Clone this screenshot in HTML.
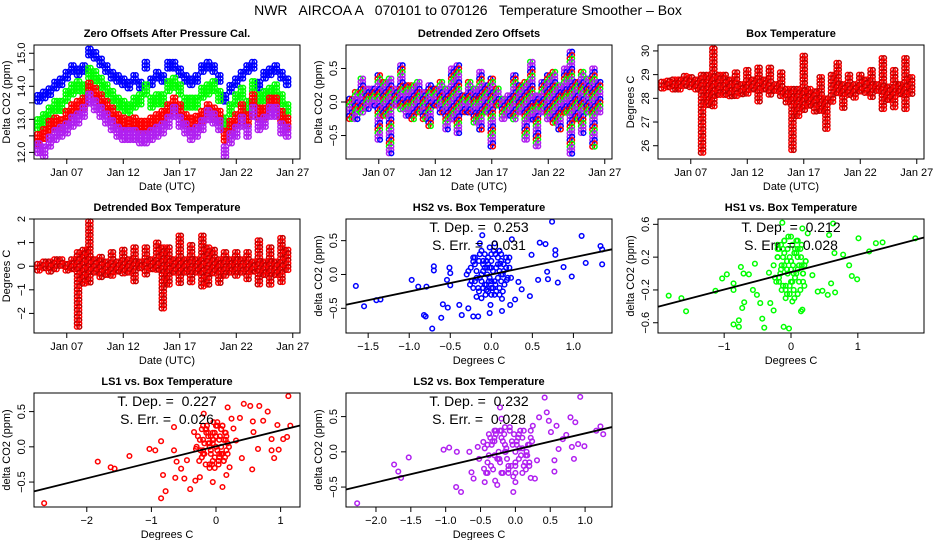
<!DOCTYPE html>
<html><head><meta charset="utf-8"><style>
html,body{margin:0;padding:0;background:#fff;}
svg{display:block;font-family:"Liberation Sans",sans-serif;}
</style></head><body>
<svg id="chart" width="936" height="540" viewBox="0 0 936 540" xmlns="http://www.w3.org/2000/svg">
<rect x="0" y="0" width="936" height="540" fill="#fff"/>
<text x="468" y="15" text-anchor="middle" font-size="14" xml:space="preserve" style="white-space:pre">NWR   AIRCOA A   070101 to 070126   Temperature Smoother – Box</text>
</svg>
<script>
// ---------- data ----------
const days = [4.5,5,5.5,6,6.5,7,7.5,8,8.5,9,9.5,10,10.5,11,11.5,12,12.5,13,13.5,14,14.5,15,15.5,16,16.5,17,17.5,18,18.5,19,19.5,20,20.5,21,21.5,22,22.5,23,23.5,24,24.5,25,25.5,26,26.5];
const dateTicks = [7,12,17,22,27];
const dateTickLabels = ["Jan 07","Jan 12","Jan 17","Jan 22","Jan 27"];
const hs2Zero = [13.6,13.7,13.8,14.0,14.1,14.3,14.5,14.4,14.5,15.0,14.9,14.7,14.5,14.3,14.2,14.1,14.0,14.2,14.0,14.6,14.1,14.3,14.2,14.6,14.6,14.4,14.2,14.1,14.2,14.5,14.6,14.5,14.2,13.6,13.9,14.1,14.3,14.5,14.6,14.0,14.3,14.4,14.5,14.3,14.1];
const hs1Zero = [12.85,13.0,13.2,13.4,13.4,13.7,13.9,14.0,13.9,14.4,14.3,14.1,13.9,13.7,13.5,13.4,13.3,13.5,13.6,13.9,13.5,13.6,13.6,14.0,14.1,13.9,13.5,13.5,13.5,13.8,13.9,14.0,13.7,12.9,13.3,13.6,13.8,13.4,14.0,13.6,13.7,13.8,13.9,13.6,13.3];
const ls1Zero = [12.4,12.55,12.8,12.9,12.85,13.1,13.3,13.4,13.5,13.95,13.8,13.6,13.4,13.2,13.0,12.9,12.85,12.9,12.8,12.8,12.9,13.0,13.1,13.3,13.5,13.3,13.0,12.9,12.95,13.1,13.3,13.2,13.1,12.5,12.8,13.0,13.3,13.0,13.6,13.2,13.2,13.5,13.5,13.1,12.9];
const ls2Zero = [12.1,12.0,12.3,12.5,12.6,12.7,12.9,13.0,13.2,13.6,13.4,13.2,13.0,12.8,12.6,12.5,12.5,12.5,12.4,12.4,12.5,12.6,12.7,12.9,13.2,12.9,12.7,12.5,12.6,12.8,13.1,13.0,12.8,12.0,12.4,12.6,12.9,12.6,13.2,12.8,12.9,13.2,13.2,12.7,12.6];
const detLo = [-0.3,-0.3,-0.2,-0.15,-0.1,-0.6,-0.25,-0.8,-0.1,-0.15,-0.25,-0.3,-0.2,-0.3,-0.4,-0.1,-0.2,-0.45,-0.3,-0.5,-0.2,-0.2,-0.35,-0.45,-0.2,-0.7,-0.1,-0.3,-0.25,-0.3,-0.2,-0.6,-0.3,-0.7,-0.2,-0.3,-0.35,-0.45,-0.2,-0.8,-0.3,-0.5,-0.2,-0.7,-0.2];
const detHi = [0.05,0.15,0.35,0.2,0.2,0.4,0.3,0.35,0.2,0.55,0.25,0.25,0.3,0.15,0.25,0.2,0.3,0.2,0.5,0.55,0.1,0.3,0.2,0.45,0.25,0.35,0.2,0.05,0.1,0.4,0.25,0.3,0.6,0.1,0.3,0.4,0.45,0.25,0.5,0.75,0.3,0.45,0.35,0.5,0.3];
const boxLo = [28.4,28.4,28.3,28.3,28.4,28.4,28.3,25.6,27.6,27.6,28.1,28.0,28.0,28.0,28.1,28.1,28.3,27.8,28.3,28.1,28.2,28.0,27.8,25.8,27.2,27.5,27.6,27.4,27.4,26.6,27.8,28.2,27.5,28.0,28.0,28.2,28.2,28.0,28.2,27.5,27.8,27.6,28.1,27.5,28.1];
const boxHi = [28.7,28.75,28.8,28.8,28.95,28.9,28.8,29.0,29.0,30.1,29.0,29.0,28.8,29.1,28.6,29.2,28.8,29.3,28.8,29.3,28.6,29.1,28.4,28.4,28.4,29.8,28.4,28.3,28.9,28.0,29.0,29.5,28.6,29.0,28.6,29.0,28.8,29.2,28.6,29.7,28.5,29.2,28.6,29.7,28.9];
const dbxLo = [-0.2,-0.2,-0.3,-0.2,-0.1,-0.2,-0.2,-2.7,-0.8,-0.8,-0.3,-0.6,-0.4,-0.5,-0.3,-0.4,-0.3,-0.7,-0.2,-0.4,-0.2,-0.2,-1.8,-0.8,-0.4,-0.8,-0.4,-0.7,-0.4,-1.0,-0.8,-0.4,-0.8,-0.5,-0.3,-0.5,-0.3,-0.6,-0.3,-0.9,-0.4,-0.8,-0.4,-0.8,-0.2];
const dbxHi = [0.1,0.2,0.2,0.3,0.3,0.1,0.3,0.6,0.7,1.9,0.3,0.4,0.2,0.6,0.2,0.7,0.3,0.8,0.2,0.8,0.3,1.0,0.8,0.8,0.3,1.3,0.3,0.9,0.3,1.3,0.8,0.7,0.3,0.6,0.3,0.6,0.3,0.6,0.2,1.1,0.2,0.8,0.2,1.2,0.7];

const hs2X = [-1.65,-1.55,-1.40,-1.35,-0.97,-0.89,-0.79,-0.82,-0.80,-0.72,-0.70,-0.70,-0.61,-0.59,-0.53,-0.51,-0.50,-0.50,-0.54,-0.39,-0.36,-0.28,-0.22,-0.16,-0.11,-0.02,-0.01,0.04,0.13,0.13,0.23,0.25,0.29,0.33,0.37,0.47,0.49,0.57,0.59,0.66,0.68,0.69,0.74,0.78,0.78,0.81,0.88,0.98,1.10,1.15,1.33,1.35,1.35,-0.30,-0.22,-0.18,0.11,0.19,-0.06,-0.14,
 -0.25,-0.2,-0.15,-0.12,-0.1,-0.08,-0.05,-0.03,0,0,0.02,0.05,0.08,0.1,0.12,0.15,0.2,0.22,-0.18,-0.07,0.03,-0.1,0.06,-0.22,0.18,-0.02,-0.14,0.1,-0.04,0.14,-0.08,0.0,0.05,-0.12,0.08,-0.02,-0.06,0.12];
const hs2Y = [-0.17,-0.47,-0.38,-0.37,-0.08,-0.18,-0.18,-0.60,-0.62,-0.80,0.12,0.06,-0.64,-0.44,-0.49,0.10,0.02,-0.16,-0.08,-0.45,-0.60,-0.50,-0.62,-0.62,0.58,-0.57,-0.45,0.46,-0.36,-0.54,-0.45,0.52,-0.37,-0.11,-0.22,-0.32,0.29,-0.08,0.47,0.45,0.04,-0.07,0.78,0.36,0.29,-0.12,0.11,-0.03,0.57,0.17,0.42,0.15,0.37,0.0,0.19,-0.33,0.16,-0.08,-0.23,0.46,
 0.1,-0.1,0.2,0.0,-0.2,0.3,0.1,-0.1,0.2,-0.3,0.05,-0.15,0.25,0.05,-0.1,0.15,-0.05,0.1,0.05,-0.3,0.35,0.15,-0.25,-0.2,0.25,-0.05,-0.05,0.35,0.25,-0.25,-0.15,-0.2,0.3,-0.35,-0.05,0.1,0.2,0.0];
const hs2BlobX = [-0.28,-0.24,-0.2,-0.16,-0.12,-0.08,-0.04,0,0.04,0.08,0.12,0.16,0.2,0.24,-0.26,-0.22,-0.18,-0.14,-0.1,-0.06,-0.02,0.02,0.06,0.1,0.14,0.18,0.22,-0.2,-0.15,-0.1,-0.05,0,0.05,0.1,0.15,-0.12,-0.04,0.04,0.12,0.0];
const hs2BlobY = [0.05,-0.1,0.25,-0.2,0.35,0.1,-0.25,0.3,-0.1,0.15,0.3,-0.15,0.2,-0.05,-0.15,0.25,-0.05,0.3,0.05,-0.15,0.4,-0.2,0.1,-0.3,0.0,0.1,0.25,0.15,-0.25,0.2,0.0,-0.1,0.3,-0.2,0.05,-0.1,0.15,-0.3,0.2,0.1];
const hs1X = [-1.83,-1.64,-1.57,-1.13,-1.03,-0.96,-0.86,-0.86,-0.86,-0.78,-0.78,-0.75,-0.73,-0.70,-0.71,-0.63,-0.57,-0.54,-0.51,-0.46,-0.43,-0.40,-0.33,-0.31,-0.26,-0.13,-0.11,-0.03,0.02,0.15,0.17,0.40,0.47,0.55,0.63,0.66,0.65,0.78,0.87,0.91,0.99,1.01,1.17,1.27,1.37,1.86,0.17,0.25,0.57,0.60,0.32,
 -0.2,-0.15,-0.1,-0.05,0,0.05,0.1,0.15,0.2,-0.18,-0.12,-0.06,0.02,0.08,0.14,0.22,-0.1,0.0,0.1,-0.15,-0.05,0.05,0.12,-0.08,0.03,-0.2,0.18,-0.02,0.08,-0.12];
const hs1Y = [-0.27,-0.30,-0.46,-0.21,-0.06,-0.01,-0.12,-0.20,-0.62,-0.57,-0.65,0.08,-0.42,-0.35,0.0,-0.01,-0.20,0.12,-0.26,-0.36,-0.55,-0.66,0.01,-0.36,-0.45,0.62,-0.65,-0.67,-0.34,-0.46,-0.44,-0.22,-0.21,-0.26,0.61,-0.23,0.25,0.23,0.1,-0.03,-0.07,0.43,0.27,0.37,0.38,0.43,0.55,0.49,0.47,-0.12,-0.02,
 0.2,0.35,0.1,0.3,0.15,0.25,0.05,0.2,0.1,-0.05,-0.15,-0.25,-0.1,0.0,-0.2,0.15,0.4,0.45,0.3,0.05,0.0,-0.3,-0.1,-0.2,0.1,0.3,0.0,-0.15,0.4,0.2];
const hs1BlobX = [-0.26,-0.22,-0.18,-0.14,-0.1,-0.06,-0.02,0.02,0.06,0.1,0.14,0.18,0.22,-0.24,-0.2,-0.16,-0.12,-0.08,-0.04,0,0.04,0.08,0.12,0.16,0.2,-0.2,-0.14,-0.08,-0.02,0.04,0.1,0.16,-0.1,0.0,0.1,-0.18,-0.06,0.06,0.18,0.0];
const hs1BlobY = [0.1,-0.1,0.3,-0.2,0.4,0.15,-0.25,0.35,-0.05,0.2,0.3,-0.1,0.15,-0.05,0.2,0.0,0.3,-0.15,0.45,0.05,-0.2,0.25,0.1,0.35,-0.15,0.35,0.1,-0.3,0.2,0.0,-0.25,0.1,0.25,0.15,0.4,-0.1,0.05,0.3,0.0,-0.1];
const ls1X = [-2.66,-1.83,-1.63,-1.57,-1.34,-1.03,-0.94,-0.85,-0.85,-0.82,-0.78,-0.65,-0.65,-0.63,-0.61,-0.54,-0.49,-0.45,-0.40,-0.34,-0.32,-0.25,-0.19,-0.05,0.10,0.18,0.16,0.21,0.24,0.27,0.37,0.43,0.53,0.57,0.56,0.58,0.67,0.65,0.73,0.80,0.86,0.86,0.90,0.95,0.97,1.04,1.10,1.12,1.15,0.40,0.31,-0.31,
 -0.25,-0.2,-0.15,-0.1,-0.05,0,0.05,0.1,0.15,0.2,-0.22,-0.12,-0.02,0.08,0.18,-0.18,-0.08,0.02,0.12,-0.15,-0.05,0.05,0.15,-0.1,0.0,0.1,-0.2,0.05,-0.05,0.12];
const ls1Y = [-0.80,-0.21,-0.29,-0.31,-0.13,-0.03,-0.05,0.08,-0.73,-0.40,-0.63,0.28,-0.05,-0.44,-0.21,-0.31,-0.45,-0.19,-0.60,0.21,-0.48,-0.43,0.47,-0.50,-0.57,0.56,-0.40,-0.29,0.40,0.26,0.41,0.61,0.58,0.36,-0.32,0.21,0.58,-0.03,0.37,0.50,0.11,-0.05,-0.16,0.31,-0.04,0.11,0.14,0.72,0.30,-0.16,0.09,-0.03,
 0.1,-0.1,0.2,0.0,-0.2,0.3,0.1,-0.1,0.2,0.0,-0.15,0.15,-0.3,0.25,-0.1,0.05,-0.05,0.35,-0.2,0.25,0.05,-0.15,0.1,-0.25,0.15,0.3,-0.05,-0.1,0.2,-0.2];
const ls1BlobX = [-0.3,-0.26,-0.22,-0.18,-0.14,-0.1,-0.06,-0.02,0.02,0.06,0.1,0.14,0.18,-0.28,-0.24,-0.2,-0.16,-0.12,-0.08,-0.04,0,0.04,0.08,0.12,0.16,-0.22,-0.16,-0.1,-0.04,0.02,0.08,0.14,-0.12,-0.02,0.08,-0.2,-0.08,0.04,0.16,-0.05];
const ls1BlobY = [0.0,-0.2,0.25,-0.1,0.3,0.05,-0.25,0.2,-0.05,0.15,0.3,-0.15,0.05,0.15,-0.05,0.1,-0.25,0.2,-0.1,0.35,0.0,-0.2,0.25,0.1,-0.05,-0.15,0.25,-0.3,0.1,0.3,-0.1,0.2,0.05,-0.15,0.0,0.3,0.15,-0.25,0.15,0.1];
const ls2X = [-2.27,-1.74,-1.68,-1.64,-1.53,-1.03,-0.95,-0.85,-0.84,-0.78,-0.66,-0.63,-0.60,-0.54,-0.52,-0.46,-0.45,-0.44,-0.29,-0.26,-0.22,-0.20,-0.03,0.00,0.22,0.28,0.31,0.25,0.34,0.42,0.45,0.48,0.51,0.56,0.56,0.59,0.62,0.68,0.73,0.79,0.81,0.84,0.86,0.90,0.93,0.99,1.16,1.22,1.26,
 -0.4,-0.35,-0.3,-0.25,-0.2,-0.15,-0.1,-0.05,0,0.05,0.1,0.15,0.2,-0.38,-0.28,-0.18,-0.08,0.02,0.12,0.22,-0.33,-0.23,-0.13,-0.03,0.07,0.17,-0.4,-0.2,0.0,0.2,-0.3,-0.1,0.1,-0.15,0.05];
const ls2Y = [-0.73,-0.18,-0.28,-0.37,-0.08,0.03,0.06,-0.50,0.00,-0.57,0.00,-0.29,-0.38,0.07,-0.10,0.14,-0.24,-0.43,-0.41,-0.47,0.63,0.47,-0.57,-0.43,-0.37,-0.38,-0.12,0.37,0.49,0.77,0.56,0.44,0.28,-0.12,-0.28,0.37,0.04,0.18,0.24,0.49,0.07,-0.10,0.42,0.11,0.78,0.08,0.30,0.36,0.25,
 0.1,-0.2,0.2,-0.1,0.3,0.0,-0.3,0.15,-0.15,0.25,0.05,-0.25,0.1,-0.05,0.25,-0.3,0.35,0.1,-0.2,0.2,0.15,-0.1,0.05,-0.35,0.3,-0.05,-0.3,0.2,0.0,-0.15,0.3,-0.2,0.2,0.1,-0.1];
const ls2BlobX = [-0.44,-0.4,-0.36,-0.32,-0.28,-0.24,-0.2,-0.16,-0.12,-0.08,-0.04,0,0.04,0.08,0.12,0.16,0.2,0.24,-0.42,-0.34,-0.26,-0.18,-0.1,-0.02,0.06,0.14,0.22,-0.38,-0.3,-0.22,-0.14,-0.06,0.02,0.1,0.18,-0.3,-0.15,0.0,0.15,-0.22];
const ls2BlobY = [0.05,-0.15,0.2,-0.25,0.3,0.0,-0.3,0.25,-0.1,0.3,0.1,-0.2,0.2,-0.05,0.3,0.0,-0.2,0.15,-0.3,0.1,-0.1,0.15,-0.25,0.25,0.05,-0.15,0.3,0.25,-0.05,0.3,0.0,-0.2,0.15,-0.3,0.1,0.15,0.35,-0.3,-0.05,-0.15];

const hs2Fit = [0.253, 0.0];
const hs1Fit = [0.212, 0.017];
const ls1Fit = [0.227, 0.007];
const ls2Fit = [0.232, 0.03];
const hs2Stats = ["T. Dep. =  0.253","S. Err. =  0.031"];
const hs1Stats = ["T. Dep. =  0.212","S. Err. =  0.028"];
const ls1Stats = ["T. Dep. =  0.227","S. Err. =  0.026"];
const ls2Stats = ["T. Dep. =  0.232","S. Err. =  0.028"];

// ---------- rendering ----------
const svg = document.getElementById('chart');
const NS = 'http://www.w3.org/2000/svg';
function mk(tag, attrs, parent){
  const e = document.createElementNS(NS, tag);
  for (const k in attrs) e.setAttribute(k, attrs[k]);
  (parent||svg).appendChild(e);
  return e;
}
function scale(d0,d1,r0,r1){ return v => r0 + (v-d0)/(d1-d0)*(r1-r0); }

function panel(name, box, xd, yd, title, xlab, ylab){
  const g = mk('g', {});
  
  
  const [L,T,R,B] = box;
  const p = {g, L, T, R, B, x: scale(xd[0],xd[1],L,R), y: scale(yd[0],yd[1],B,T)};
  const t = mk('text', {x:(L+R)/2, y:T-8, 'text-anchor':'middle', 'font-size':11, 'font-weight':'bold'}, g);
  t.textContent = title;
  
  
  const xl = mk('text', {x:(L+R)/2, y:B+31, 'text-anchor':'middle', 'font-size':11}, g);
  xl.textContent = xlab;
  
  
  const yl = mk('text', {x:0, y:0, 'text-anchor':'middle', 'font-size':11, transform:`translate(${L-24},${(T+B)/2}) rotate(-90)`}, g);
  yl.textContent = ylab;
  
  
  p.marks = mk('g', {}, g);
  
  
  return p;
}
function frame(p){
  const r = mk('rect', {x:p.L, y:p.T, width:p.R-p.L, height:p.B-p.T, fill:'none', stroke:'#000', 'stroke-width':1}, p.g);
  
  
}
function xAxis(p, ticks, labels){
  const ax = mk('g', {}, p.g);
  
  
  ticks.forEach((v,i)=>{
    const X = p.x(v);
    mk('line', {x1:X, x2:X, y1:p.B, y2:p.B+5, stroke:'#000'}, ax);
    const t = mk('text', {x:X, y:p.B+17, 'text-anchor':'middle', 'font-size':11}, ax);
    t.textContent = labels[i];
    
    
  });
}
function yAxis(p, ticks, labels){
  const ax = mk('g', {}, p.g);
  
  
  ticks.forEach((v,i)=>{
    const Y = p.y(v);
    mk('line', {x1:p.L-5, x2:p.L, y1:Y, y2:Y, stroke:'#000'}, ax);
    if (labels[i] === '') return;
    const t = mk('text', {x:0, y:0, 'text-anchor':'middle', 'font-size':11, transform:`translate(${p.L-9},${Y}) rotate(-90)`}, ax);
    t.textContent = labels[i];
    
    
  });
}
function dot(p, X, Y, color, nm){
  const c = mk('circle', {cx:X, cy:Y, r:2.3, fill:'none', stroke:color, 'stroke-width':1.5}, p.marks);
  
  
}
function centerSeries(p, vals, half, color, nm){
  vals.forEach((v,i)=>{
    const y0 = p.y(v+half), y1 = p.y(v-half);
    [-1.3,1.3].forEach(dx=>{
      for (let Y=y0; Y<=y1+0.01; Y+=3.4) dot(p, p.x(days[i])+dx, Y, color, nm);
    });
  });
}
function rangeSeries(p, lo, hi, colors, nm){
  lo.forEach((v,i)=>{
    const y0 = p.y(hi[i]), y1 = p.y(v);
    [-1.3,1.3].forEach((dx,j)=>{
      let k=j;
      for (let Y=y0; Y<=y1+0.01; Y+=3.4){ dot(p, p.x(days[i])+dx, Y, colors[(k+i)%colors.length], nm); k++; }
    });
  });
}
function scatter(p, xs, ys, bx, by, color, fit, stats, nm){
  xs.forEach((v,i)=> dot(p, p.x(v), p.y(ys[i]), color, nm));
  bx.forEach((v,i)=> dot(p, p.x(v), p.y(by[i]), color, nm));
  const ln = mk('line', {x1:p.L, x2:p.R, y1:p.y(fit[1]+fit[0]*p.xd0), y2:p.y(fit[1]+fit[0]*p.xd1), stroke:'#000', 'stroke-width':1.8}, p.g);
  
  
  stats.forEach((s,i)=>{
    const t = mk('text', {x:(p.L+p.R)/2, y:p.T+13+i*18, 'text-anchor':'middle', 'font-size':14, 'xml:space':'preserve', style:'white-space:pre'}, p.g);
    t.textContent = s;
    
    
  });
}
const DX = [4.1, 27.64];

let p = panel('zero-offsets-panel', [34,45,300,159], DX, [11.8,15.25], 'Zero Offsets After Pressure Cal.', 'Date (UTC)', 'Delta CO2 (ppm)');
centerSeries(p, hs2Zero, 0.14, '#0000ff', 'hs2-point');
centerSeries(p, hs1Zero, 0.16, '#00ff00', 'hs1-point');
centerSeries(p, ls1Zero, 0.16, '#ff0000', 'ls1-point');
centerSeries(p, ls2Zero, 0.18, '#b020f0', 'ls2-point');
frame(p); xAxis(p, dateTicks, dateTickLabels);
yAxis(p, [12,12.5,13,13.5,14,14.5,15], ['12.0','12.5','13.0','13.5','14.0','14.5','15.0'].map((s,i)=> i%2===0 ? s : ''));

p = panel('detrended-zero-offsets-panel', [346,45,612,159], DX, [-0.85,0.85], 'Detrended Zero Offsets', 'Date (UTC)', 'Delta CO2 (ppm)');
rangeSeries(p, detLo, detHi, ['#0000ff','#ff0000','#00ff00','#b020f0','#b020f0'], 'detrended-point');
frame(p); xAxis(p, dateTicks, dateTickLabels);
yAxis(p, [-0.5,0,0.5], ['−0.5','0.0','0.5']);

p = panel('box-temperature-panel', [658,45,924,159], DX, [25.44,30.25], 'Box Temperature', 'Date (UTC)', 'Degrees C');
rangeSeries(p, boxLo, boxHi, ['#c00000','#ff0000'], 'box-temp-point');
frame(p); xAxis(p, dateTicks, dateTickLabels);
yAxis(p, [26,27,28,29,30], ['26','27','28','29','30']);

p = panel('detrended-box-temperature-panel', [34,219,300,333], DX, [-2.83,2.0], 'Detrended Box Temperature', 'Date (UTC)', 'Degrees C');
rangeSeries(p, dbxLo, dbxHi, ['#c00000','#ff0000'], 'detrended-box-temp-point');
frame(p); xAxis(p, dateTicks, dateTickLabels);
yAxis(p, [-2,-1,0,1,2], ['−2','−1','0','1','2']);

function sp(name, box, xd, yd, title, ylab){
  const q = panel(name, box, xd, yd, title, 'Degrees C', ylab);
  q.xd0 = xd[0]; q.xd1 = xd[1];
  return q;
}
p = sp('hs2-vs-box-panel', [346,219,612,333], [-1.77,1.47], [-0.865,0.82], 'HS2 vs. Box Temperature', 'delta CO2 (ppm)');
scatter(p, hs2X, hs2Y, hs2BlobX, hs2BlobY, '#0000ff', hs2Fit, hs2Stats, 'hs2-scatter-point');
frame(p); xAxis(p, [-1.5,-1,-0.5,0,0.5,1], ['−1.5','−1.0','−0.5','0.0','0.5','1.0']);
yAxis(p, [-0.5,0,0.5], ['−0.5','0.0','0.5']);

p = sp('hs1-vs-box-panel', [658,219,924,333], [-1.99,1.99], [-0.725,0.665], 'HS1 vs. Box Temperature', 'delta CO2 (ppm)');
scatter(p, hs1X, hs1Y, hs1BlobX, hs1BlobY, '#00ff00', hs1Fit, hs1Stats, 'hs1-scatter-point');
frame(p); xAxis(p, [-1,0,1], ['−1','0','1']);
yAxis(p, [-0.6,-0.2,0.2,0.6], ['−0.6','−0.2','0.2','0.6']);

p = sp('ls1-vs-box-panel', [34,393,300,507], [-2.817,1.30], [-0.854,0.764], 'LS1 vs. Box Temperature', 'delta CO2 (ppm)');
scatter(p, ls1X, ls1Y, ls1BlobX, ls1BlobY, '#ff0000', ls1Fit, ls1Stats, 'ls1-scatter-point');
frame(p); xAxis(p, [-2,-1,0,1], ['−2','−1','0','1']);
yAxis(p, [-0.5,0,0.5], ['−0.5','0.0','0.5']);

p = sp('ls2-vs-box-panel', [346,393,612,507], [-2.43,1.386], [-0.783,0.835], 'LS2 vs. Box Temperature', 'delta CO2 (ppm)');
scatter(p, ls2X, ls2Y, ls2BlobX, ls2BlobY, '#b020f0', ls2Fit, ls2Stats, 'ls2-scatter-point');
frame(p); xAxis(p, [-2,-1.5,-1,-0.5,0,0.5,1], ['−2.0','−1.5','−1.0','−0.5','0.0','0.5','1.0']);
yAxis(p, [-0.5,0,0.5], ['−0.5','0.0','0.5']);
</script>
</body></html>
